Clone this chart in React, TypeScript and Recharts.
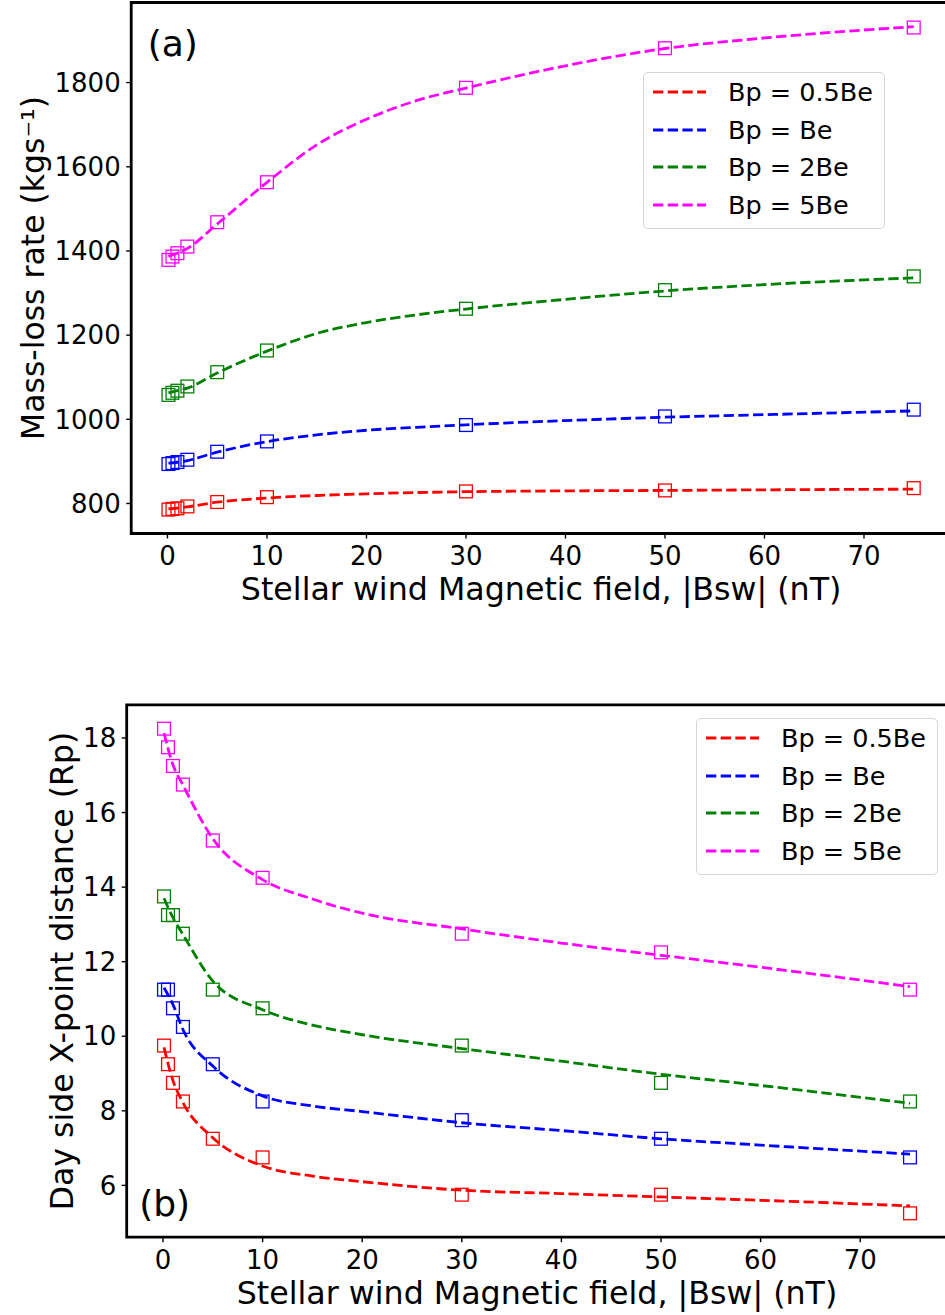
import {
  ComposedChart,
  Line,
  Scatter,
  XAxis,
  YAxis,
  ReferenceArea,
  Legend,
} from "recharts";

// |Bsw| values of the runs (nT)
const BSW = [0.1, 0.5, 1, 2, 5, 10, 30, 50, 75];
const MASS_FIT_X = [0.1, 1, 2, 5, 10, 15, 20, 25, 30, 40, 50, 60, 75];
const XPT_FIT_X = [0.1, 1, 2, 5, 10, 15, 20, 30, 40, 50, 60, 75];

const X_DOMAIN = [-3.645, 78.745];
const X_TICKS = [0, 10, 20, 30, 40, 50, 60, 70];

const NAMES = ["Bp = 0.5Be", "Bp = Be", "Bp = 2Be", "Bp = 5Be"];
const COLORS = ["#ff0000", "#0000ff", "#008000", "#ff00ff"];

// (a) mass-loss rate, kg/s
const MASS_05 = [785.5, 787, 788.5, 793, 803.5, 815, 828.7, 831, 836.5];
const MASS_1 = [893.8, 896, 898.5, 904, 923, 947.5, 986.4, 1006.8, 1023];
const MASS_2 = [1058, 1063, 1068, 1078, 1112, 1163.5, 1262.7, 1306.9, 1339.6];
const MASS_5 = [1378.8, 1386.7, 1394.7, 1410.4, 1468.3, 1563.3, 1787.6, 1881.7, 1930.8];

const MASS_FIT_05 = [787, 789, 792, 803, 813, 819, 823, 826, 828, 830, 831, 832.5, 834];
const MASS_FIT_1 = [896, 898, 902, 922, 947, 963, 974, 981, 987, 997, 1005, 1011, 1020];
const MASS_FIT_2 = [1063, 1068, 1074, 1110, 1162, 1204, 1230, 1248, 1262, 1285, 1305, 1320, 1336];
const MASS_FIT_5 = [1387, 1395, 1406, 1464, 1563, 1652, 1713, 1757, 1787, 1840, 1881, 1906, 1933];

const MASS_DOMAIN = [728.7, 1990.3];
const MASS_TICKS = [800, 1000, 1200, 1400, 1600, 1800];

// (b) day side X-point distance, Rp
const XPT_05 = [9.75, 9.25, 8.75, 8.25, 7.25, 6.75, 5.75, 5.75, 5.25];
const XPT_1 = [11.25, 11.25, 10.75, 10.25, 9.25, 8.25, 7.75, 7.25, 6.75];
const XPT_2 = [13.75, 13.25, 13.25, 12.75, 11.25, 10.75, 9.75, 8.75, 8.25];
const XPT_5 = [18.25, 17.75, 17.25, 16.75, 15.25, 14.25, 12.75, 12.25, 11.25];

const XPT_FIT_05 = [9.7, 8.81, 8.22, 7.28, 6.52, 6.25, 6.1, 5.87, 5.78, 5.69, 5.6, 5.45];
const XPT_FIT_1 = [11.3, 10.85, 10.18, 9.2, 8.4, 8.13, 7.98, 7.68, 7.47, 7.25, 7.08, 6.84];
const XPT_FIT_2 = [13.7, 13.18, 12.73, 11.48, 10.71, 10.3, 10.04, 9.67, 9.33, 8.98, 8.68, 8.2];
const XPT_FIT_5 = [18.13, 17.28, 16.74, 15.3, 14.2, 13.68, 13.3, 12.88, 12.5, 12.17, 11.85, 11.33];

const XPT_DOMAIN = [4.61, 18.89];
const XPT_TICKS = [6, 8, 10, 12, 14, 16, 18];

const X_LABEL = "Stellar wind Magnetic field, |Bsw| (nT)";
const FONT = "DejaVu Sans";

const rows = (xs: number[], ys: number[]) => xs.map((x, i) => ({ x, y: ys[i] }));

type Series = { name: string; color: string; points: number[]; fit: number[] };

const massSeries: Series[] = [
  { name: NAMES[0], color: COLORS[0], points: MASS_05, fit: MASS_FIT_05 },
  { name: NAMES[1], color: COLORS[1], points: MASS_1, fit: MASS_FIT_1 },
  { name: NAMES[2], color: COLORS[2], points: MASS_2, fit: MASS_FIT_2 },
  { name: NAMES[3], color: COLORS[3], points: MASS_5, fit: MASS_FIT_5 },
];

const xptSeries: Series[] = [
  { name: NAMES[0], color: COLORS[0], points: XPT_05, fit: XPT_FIT_05 },
  { name: NAMES[1], color: COLORS[1], points: XPT_1, fit: XPT_FIT_1 },
  { name: NAMES[2], color: COLORS[2], points: XPT_2, fit: XPT_FIT_2 },
  { name: NAMES[3], color: COLORS[3], points: XPT_5, fit: XPT_FIT_5 },
];

function LegendBox({ series }: { series: Series[] }) {
  return (
    <div
      style={{
        position: "relative",
        width: 242,
        height: 157,
        boxSizing: "border-box",
        border: "1.3px solid #d6d6d6",
        borderRadius: 5,
        background: "rgba(255,255,255,0.8)",
        fontFamily: FONT,
      }}
    >
      {series.map((s, i) => (
        <div
          key={s.name}
          style={{
            position: "absolute",
            left: 0,
            top: 19 + i * 37.7 - 15,
            height: 30,
            lineHeight: "30px",
            whiteSpace: "nowrap",
          }}
        >
          <svg width={70} height={30} style={{ position: "absolute", left: 0, top: 0 }}>
            <line x1={9} x2={62} y1={15} y2={15} stroke={s.color} strokeWidth={2.8} strokeDasharray="10.3 4.4" />
          </svg>
          <span style={{ position: "absolute", left: 84, top: 0, fontSize: 25.5, color: "#000" }}>{s.name}</span>
        </div>
      ))}
    </div>
  );
}

type PanelProps = {
  series: Series[];
  fitX: number[];
  width: number;
  height: number;
  margin: { top: number; right: number; bottom: number; left: number };
  yDomain: number[];
  yTicks: number[];
  yAxisWidth: number;
  xAxisHeight: number;
  yLabel: string;
  yLabelX: number;
  tag: string;
  tagDx: number;
  tagDy: (vb: any) => number;
  legendLeft: number;
  legendTop: number;
};

function Panel(p: PanelProps) {
  const square = (color: string) => (props: any) => (
    <rect
      x={props.cx - 6.4}
      y={props.cy - 6.4}
      width={12.8}
      height={12.8}
      fill="none"
      stroke={color}
      strokeWidth={1.3}
    />
  );

  return (
    <ComposedChart width={p.width} height={p.height} margin={p.margin}>
      <XAxis
        type="number"
        dataKey="x"
        domain={X_DOMAIN}
        ticks={X_TICKS}
        interval={0}
        allowDataOverflow
        height={p.xAxisHeight}
        axisLine={false}
        tickSize={5}
        tickMargin={8.5}
        tickLine={{ stroke: "#000", strokeWidth: 1.4 }}
        tick={{ fill: "#000", fontSize: 26, fontFamily: FONT }}
        label={(props: any) => {
          const vb = props.viewBox || { x: 0, y: 0, width: 0, height: 0 };
          return (
            <text
              x={vb.x + vb.width / 2}
              y={vb.y + 66.5}
              textAnchor="middle"
              fontSize={31.7}
              fontFamily={FONT}
              fill="#000"
            >
              {X_LABEL}
            </text>
          );
        }}
      />
      <YAxis
        type="number"
        domain={p.yDomain}
        ticks={p.yTicks}
        interval={0}
        allowDataOverflow
        width={p.yAxisWidth}
        axisLine={false}
        tickSize={5}
        tickMargin={5.5}
        tickLine={{ stroke: "#000", strokeWidth: 1.4 }}
        tick={{ fill: "#000", fontSize: 26, fontFamily: FONT }}
        label={(props: any) => {
          const vb = props.viewBox || { x: 0, y: 0, width: 0, height: 0 };
          return (
            <text
              transform={`translate(${p.yLabelX}, ${vb.y + vb.height / 2}) rotate(-90)`}
              textAnchor="middle"
              fontSize={31.5}
              fontFamily={FONT}
              fill="#000"
            >
              {p.yLabel}
            </text>
          );
        }}
      />
      {p.series.map((s) => (
        <Scatter
          key={"pts" + s.name}
          data={rows(BSW, s.points)}
          dataKey="y"
          legendType="none"
          isAnimationActive={false}
          shape={square(s.color)}
        />
      ))}
      {p.series.map((s) => (
        <Line
          key={"fit" + s.name}
          data={rows(p.fitX, s.fit)}
          dataKey="y"
          name={s.name}
          type="monotone"
          stroke={s.color}
          strokeWidth={2.8}
          strokeDasharray="10.3 4.4"
          dot={false}
          activeDot={false}
          isAnimationActive={false}
        />
      ))}
      <ReferenceArea
        x1={X_DOMAIN[0]}
        x2={X_DOMAIN[1]}
        y1={p.yDomain[0]}
        y2={p.yDomain[1]}
        fill="none"
        stroke="#000"
        strokeWidth={2.8}
        ifOverflow="visible"
        label={(props: any) => {
          const vb = props.viewBox || { x: 0, y: 0, width: 0, height: 0 };
          return (
            <text x={vb.x + p.tagDx} y={p.tagDy(vb)} fontSize={36} fontFamily={FONT} fill="#000">
              {p.tag}
            </text>
          );
        }}
      />
      <Legend
        layout="vertical"
        align="center"
        verticalAlign="middle"
        wrapperStyle={{ left: p.legendLeft, top: p.legendTop, width: 242, height: 157 }}
        content={() => <LegendBox series={p.series} />}
      />
    </ComposedChart>
  );
}

export default function App() {
  return (
    <div
      style={{
        position: "absolute",
        left: 0,
        top: 0,
        width: 945,
        height: 1315,
        overflow: "hidden",
        background: "#fff",
        fontFamily: FONT,
      }}
    >
      <div style={{ position: "absolute", left: 0, top: 0 }}>
        <Panel
          series={massSeries}
          fitX={MASS_FIT_X}
          width={960}
          height={620}
          margin={{ top: 2.5, right: 9, bottom: 0, left: 0 }}
          yDomain={MASS_DOMAIN}
          yTicks={MASS_TICKS}
          yAxisWidth={131.2}
          xAxisHeight={86.5}
          yLabel="Mass-loss rate (kgs⁻¹)"
          yLabelX={43.5}
          tag="(a)"
          tagDx={16.5}
          tagDy={(vb) => vb.y + 53}
          legendLeft={643}
          legendTop={72}
        />
      </div>
      <div style={{ position: "absolute", left: 0, top: 690 }}>
        <Panel
          series={xptSeries}
          fitX={XPT_FIT_X}
          width={960}
          height={625}
          margin={{ top: 14.8, right: 12.7, bottom: 0, left: 0 }}
          yDomain={XPT_DOMAIN}
          yTicks={XPT_TICKS}
          yAxisWidth={126.7}
          xAxisHeight={77.8}
          yLabel="Day side X-point distance (Rp)"
          yLabelX={73.3}
          tag="(b)"
          tagDx={12.5}
          tagDy={(vb) => vb.y + vb.height - 21}
          legendLeft={696}
          legendTop={28}
        />
      </div>
    </div>
  );
}
